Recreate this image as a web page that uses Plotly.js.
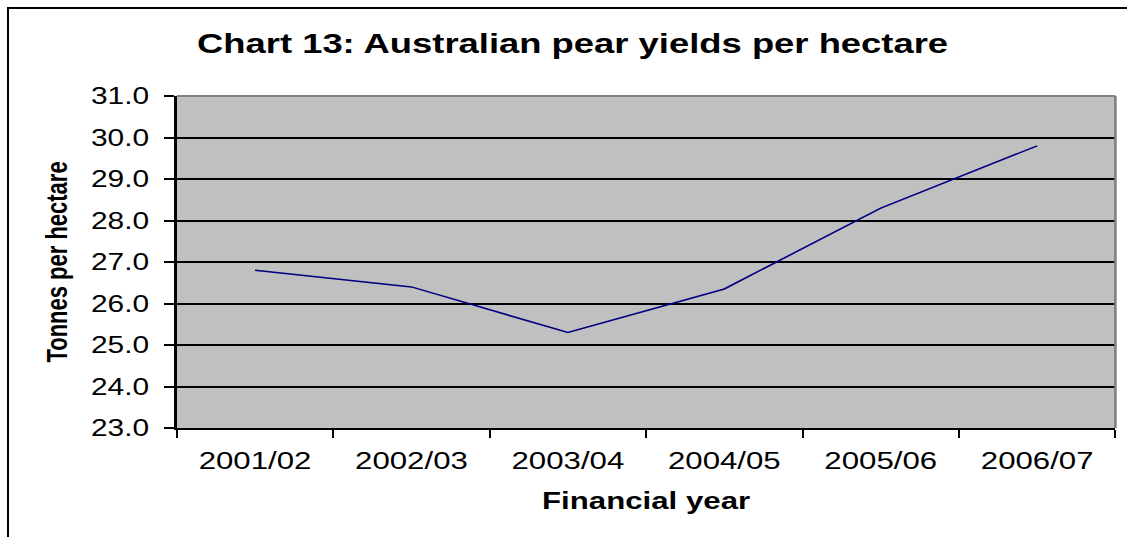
<!DOCTYPE html>
<html>
<head>
<meta charset="utf-8">
<script src="https://cdn.plot.ly/plotly-3.0.1.min.js"></script>
<style>
  html, body { margin: 0; padding: 0; background: #ffffff; overflow: hidden; }
  #wrap { position: relative; width: 1127px; height: 537px; overflow: hidden; }
  #chart { position: absolute; left: 0; top: 0; width: 867px; height: 537px;
           transform: scaleX(1.3); transform-origin: 0 0; }
  #frameTop { position: absolute; left: 7px; top: 7px; width: 1130px; height: 2px; background: #000; }
  #frameLeft { position: absolute; left: 7px; top: 7px; width: 2px; height: 540px; background: #000; }
</style>
</head>
<body>
<div id="wrap">
  <div id="chart"></div>
  <div id="frameTop"></div>
  <div id="frameLeft"></div>
</div>
<script>
// Data
const years = ['2001/02', '2002/03', '2003/04', '2004/05', '2005/06', '2006/07'];
const yields = [26.8, 26.4, 25.3, 26.35, 28.3, 29.8];
const chartTitle = 'Chart 13: Australian pear yields per hectare';
const xTitle = 'Financial year';
const yTitle = 'Tonnes per hectare';

const FONT = 'Liberation Sans, Arial, Helvetica, sans-serif';

const trace = {
  type: 'scatter',
  mode: 'lines',
  x: years,
  y: yields,
  line: { color: '#000080', width: 1.5 },
  hoverinfo: 'x+y'
};

const layout = {
  width: 867,
  height: 537,
  margin: { l: 136, r: 8.5, t: 96, b: 108.7 },
  paper_bgcolor: 'rgba(0,0,0,0)',
  plot_bgcolor: '#c0c0c0',
  showlegend: false,
  font: { family: FONT, color: '#000000' },
  title: {
    text: '<b>' + chartTitle + '</b>',
    font: { family: FONT, size: 28, color: '#000000' },
    xref: 'container', x: 0.508, xanchor: 'center',
    yref: 'container', y: 1 - 43 / 537, yanchor: 'middle'
  },
  xaxis: {
    type: 'category',
    range: [-0.5, 5.5],
    tickson: 'boundaries',
    ticks: 'outside',
    ticklen: 8,
    tickwidth: 1.5,
    tickcolor: '#000000',
    showgrid: false,
    showline: true,
    linecolor: '#000000',
    linewidth: 2,
    zeroline: false,
    tickfont: { family: FONT, size: 24, color: '#000000' },
    ticklabelstandoff: 10,
    title: {
      text: '<b>' + xTitle + '</b>',
      font: { family: FONT, size: 24, color: '#000000' },
      standoff: 19
    },
    fixedrange: true
  },
  yaxis: {
    range: [23, 31],
    dtick: 1,
    tick0: 23,
    tickformat: '.1f',
    ticks: 'outside',
    ticklen: 7.7,
    tickwidth: 2,
    tickcolor: '#000000',
    showgrid: true,
    gridcolor: '#000000',
    gridwidth: 2,
    showline: true,
    linecolor: '#000000',
    linewidth: 2,
    zeroline: false,
    tickfont: { family: FONT, size: 23, color: '#000000' },
    ticklabelstandoff: 7,
    title: {
      text: '<b>' + yTitle + '</b>',
      font: { family: FONT, size: 22, color: '#000000' },
      standoff: 12
    },
    fixedrange: true
  },
  shapes: [
    { type: 'line', xref: 'paper', yref: 'paper', x0: 0, x1: 1, y0: 1, y1: 1,
      line: { color: '#808080', width: 2 } },
    { type: 'line', xref: 'paper', yref: 'paper', x0: 1, x1: 1, y0: 0, y1: 1,
      line: { color: '#808080', width: 2 } }
  ]
};

Plotly.newPlot('chart', [trace], layout, { displayModeBar: false, staticPlot: true });
</script>
</body>
</html>
